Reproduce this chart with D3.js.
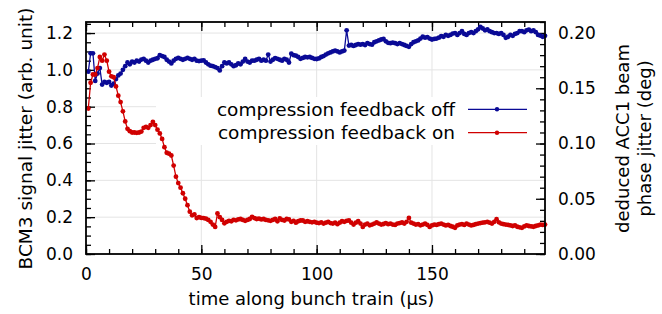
<!DOCTYPE html>
<html>
<head>
<meta charset="utf-8">
<script src="https://cdn.jsdelivr.net/npm/d3@7/dist/d3.min.js"></script>
<style>
  body { margin: 0; background: #fff; }
  svg text { font-family: "DejaVu Sans", sans-serif; fill: #000; }
</style>
</head>
<body>
<div id="chart"></div>
<script>
// jitter with compression feedback off (left axis, arb. unit), one sample per us starting at 1 us
var feedbackOff = [
  0.99, 1.09, 1.09, 0.94, 0.98, 1.01, 0.92, 0.935, 0.93, 0.935,
  0.915, 0.925, 0.95, 0.97, 0.98, 1.0, 1.02, 1.04, 1.03, 1.045,
  1.04, 1.05, 1.045, 1.056, 1.06, 1.05, 1.04, 1.05, 1.055, 1.06,
  1.063, 1.08, 1.075, 1.07, 1.055, 1.045, 1.035, 1.05, 1.06, 1.065,
  1.06, 1.055, 1.06, 1.065, 1.06, 1.055, 1.06, 1.05, 1.048, 1.05,
  1.052, 1.04, 1.03, 1.023, 1.02, 1.015, 1.01, 0.997, 1.02, 1.04,
  1.035, 1.04, 1.03, 1.02, 1.025, 1.035, 1.03, 1.045, 1.059, 1.045,
  1.04, 1.05, 1.05, 1.055, 1.06, 1.05, 1.055, 1.05, 1.083, 1.045,
  1.055, 1.064, 1.06, 1.055, 1.05, 1.06, 1.055, 1.04, 1.088, 1.08,
  1.077, 1.07, 1.06, 1.065, 1.07, 1.068, 1.07, 1.065, 1.06, 1.059,
  1.062, 1.07, 1.075, 1.083, 1.09, 1.095, 1.1, 1.105, 1.1, 1.095,
  1.1, 1.105, 1.215, 1.132, 1.135, 1.13, 1.135, 1.14, 1.137, 1.14,
  1.135, 1.145, 1.14, 1.137, 1.15, 1.155, 1.16, 1.165, 1.168, 1.155,
  1.147, 1.145, 1.148, 1.145, 1.14, 1.145, 1.14, 1.135, 1.13, 1.125,
  1.14, 1.15, 1.155, 1.16, 1.17, 1.18, 1.175, 1.178, 1.17, 1.165,
  1.168, 1.17, 1.175, 1.183, 1.18, 1.19, 1.185, 1.19, 1.197, 1.2,
  1.19, 1.2, 1.21, 1.195, 1.19, 1.2, 1.205, 1.2, 1.21, 1.22,
  1.234, 1.225, 1.215, 1.22, 1.21, 1.205, 1.2, 1.2, 1.195, 1.2,
  1.19, 1.174, 1.18, 1.19, 1.185, 1.195, 1.2, 1.21, 1.21, 1.205,
  1.215, 1.219, 1.21, 1.215, 1.205, 1.19, 1.186, 1.18, 1.185
];

// jitter with compression feedback on
var feedbackOn = [
  0.79, 0.93, 0.975, 0.975, 1.01, 1.07, 1.05, 1.083, 1.05, 0.99,
  0.965, 0.96, 0.91, 0.86, 0.825, 0.775, 0.72, 0.68, 0.667, 0.66,
  0.66, 0.658, 0.66, 0.665, 0.685, 0.69, 0.685, 0.7, 0.718, 0.7,
  0.675, 0.655, 0.625, 0.58, 0.55, 0.545, 0.535, 0.48, 0.42, 0.385,
  0.36, 0.33, 0.3, 0.265, 0.23, 0.21, 0.215, 0.195, 0.2, 0.196,
  0.195, 0.192, 0.185, 0.175, 0.16, 0.147, 0.22, 0.2, 0.185, 0.167,
  0.175, 0.18, 0.178, 0.185, 0.183, 0.188, 0.19, 0.185, 0.18, 0.185,
  0.19, 0.202, 0.195, 0.19, 0.192, 0.188, 0.19, 0.185, 0.183, 0.18,
  0.185, 0.19, 0.178, 0.193, 0.185, 0.182, 0.19, 0.188, 0.175, 0.18,
  0.17, 0.178, 0.182, 0.182, 0.175, 0.178, 0.175, 0.172, 0.175, 0.17,
  0.168, 0.172, 0.165, 0.17, 0.175, 0.168, 0.165, 0.17, 0.162, 0.17,
  0.178, 0.175, 0.18, 0.182, 0.17, 0.16, 0.17, 0.178, 0.165, 0.147,
  0.16, 0.165, 0.156, 0.16, 0.165, 0.171, 0.165, 0.16, 0.163, 0.168,
  0.162, 0.165, 0.16, 0.158, 0.165, 0.168, 0.171, 0.165, 0.175, 0.196,
  0.17, 0.165, 0.16, 0.162, 0.156, 0.16, 0.165, 0.158, 0.147, 0.155,
  0.16, 0.158, 0.162, 0.165, 0.16, 0.155, 0.158, 0.152, 0.148, 0.142,
  0.155, 0.16, 0.162, 0.158, 0.165, 0.16, 0.155, 0.158, 0.162, 0.165,
  0.168, 0.17, 0.172, 0.174, 0.17, 0.165, 0.175, 0.189, 0.172, 0.165,
  0.162, 0.16, 0.158, 0.155, 0.152, 0.155, 0.148, 0.145, 0.142, 0.15,
  0.155, 0.152, 0.15, 0.148, 0.152, 0.155, 0.16, 0.158, 0.16
];

var seriesNames = ["compression feedback off", "compression feedback on"];
var seriesColors = ["#0a0a96", "#d00000"];

var xMajorTicks = [0, 50, 100, 150];
var yLeftTicks = [0, 0.2, 0.4, 0.6, 0.8, 1.0, 1.2];
var yRightTicks = [0, 0.05, 0.1, 0.15, 0.2];

// Set the dimensions of the canvas / graph
var W = 662, H = 314;
var margin = { top: 22, right: 117, bottom: 60, left: 86 },
    width = W - margin.left - margin.right,
    height = H - margin.top - margin.bottom;

var svg = d3.select("#chart")
    .append("svg")
    .attr("width", W)
    .attr("height", H);

var g = svg.append("g")
    .attr("transform", "translate(" + margin.left + "," + margin.top + ")");

// scales
var x = d3.scaleLinear().domain([0, 199]).range([0, width]);
var y = d3.scaleLinear().domain([0, 1.26]).range([height, 0]);
var y2 = d3.scaleLinear().domain([0, 0.21]).range([height, 0]);

// grid
g.append("g").selectAll("line")
    .data(xMajorTicks.slice(1))
    .enter().append("line")
    .attr("x1", function(d) { return x(d); })
    .attr("x2", function(d) { return x(d); })
    .attr("y1", 0).attr("y2", height)
    .attr("stroke", "#e4e4e4").attr("stroke-width", 1);
g.append("g").selectAll("line")
    .data(yLeftTicks.slice(1))
    .enter().append("line")
    .attr("x1", 0).attr("x2", width)
    .attr("y1", function(d) { return y(d); })
    .attr("y2", function(d) { return y(d); })
    .attr("stroke", "#e4e4e4").attr("stroke-width", 1);

// legend background hides grid
g.append("rect")
    .attr("x", 70).attr("y", 75)
    .attr("width", width - 70).attr("height", 48)
    .attr("fill", "#fff");

// axes (ticks point inward)
function minors(scale, step) {
    var d = scale.domain(), out = [];
    for (var v = 0; v <= d[1] + 1e-9; v += step) out.push(+v.toFixed(4));
    return out;
}

function addAxis(axis, tx, ty, cls) {
    var a = g.append("g")
        .attr("class", cls)
        .attr("transform", "translate(" + tx + "," + ty + ")")
        .call(axis);
    a.select(".domain").remove();
    a.selectAll(".tick line").attr("stroke", "#000").attr("stroke-width", 1.3);
    a.selectAll("text").style("font-size", "17px");
    return a;
}

// x minor + major, bottom and top
addAxis(d3.axisBottom(x).tickValues(minors(x, 10)).tickSize(-5).tickFormat(""), 0, height, "xminor");
addAxis(d3.axisTop(x).tickValues(minors(x, 10)).tickSize(-5).tickFormat(""), 0, 0, "xminor2");
addAxis(d3.axisBottom(x).tickValues(xMajorTicks).tickSize(-9).tickPadding(14)
    .tickFormat(d3.format("d")), 0, height, "xaxis");
addAxis(d3.axisTop(x).tickValues(xMajorTicks).tickSize(-9).tickFormat(""), 0, 0, "xaxis2");

// left y
addAxis(d3.axisLeft(y).tickValues(minors(y, 0.05)).tickSize(-5).tickFormat(""), 0, 0, "yminor");
addAxis(d3.axisLeft(y).tickValues(yLeftTicks).tickSize(-9).tickPadding(13)
    .tickFormat(d3.format(".1f")), 0, 0, "yaxis");

// right y2
addAxis(d3.axisRight(y2).tickValues(minors(y2, 0.01)).tickSize(-5).tickFormat(""), width, 0, "y2minor");
addAxis(d3.axisRight(y2).tickValues(yRightTicks).tickSize(-9).tickPadding(13)
    .tickFormat(d3.format(".2f")), width, 0, "y2axis");

// data
var allSeries = [feedbackOff, feedbackOn];
var valueline = d3.line()
    .x(function(d, i) { return x(i + 1); })
    .y(function(d) { return y(d); });

allSeries.forEach(function(vals, k) {
    g.append("path")
        .attr("d", valueline(vals))
        .attr("fill", "none")
        .attr("stroke", seriesColors[k])
        .attr("stroke-width", 1.3);
    g.append("g").selectAll("circle")
        .data(vals)
        .enter().append("circle")
        .attr("cx", function(d, i) { return x(i + 1); })
        .attr("cy", function(d) { return y(d); })
        .attr("r", 2.4)
        .attr("fill", seriesColors[k]);
});

// frame
g.append("rect")
    .attr("width", width).attr("height", height)
    .attr("fill", "none")
    .attr("stroke", "#000").attr("stroke-width", 1.8);

// legend
var legend = g.append("g").attr("class", "legend");
seriesNames.forEach(function(name, k) {
    var ly = 87.3 + k * 23.4;
    legend.append("text")
        .attr("x", 369).attr("y", ly)
        .attr("dy", "0.35em")
        .attr("text-anchor", "end")
        .style("font-size", "18.5px")
        .text(name);
    legend.append("line")
        .attr("x1", 382).attr("x2", 441)
        .attr("y1", ly).attr("y2", ly)
        .attr("stroke", seriesColors[k]).attr("stroke-width", 1.2);
    legend.append("circle")
        .attr("cx", 411).attr("cy", ly).attr("r", 2.2)
        .attr("fill", seriesColors[k]);
});

// axis labels
svg.append("text")
    .attr("transform", "translate(32,138.5) rotate(-90)")
    .attr("text-anchor", "middle")
    .style("font-size", "18.5px")
    .text("BCM3 signal jitter (arb. unit)");

svg.append("text")
    .attr("x", 311.5).attr("y", 305)
    .attr("text-anchor", "middle")
    .style("font-size", "18px")
    .text("time along bunch train (\u03bcs)");

var r = svg.append("text")
    .attr("transform", "translate(629,138.5) rotate(-90)")
    .attr("text-anchor", "middle")
    .style("font-size", "18px");
r.append("tspan").attr("x", 0).attr("dy", 0).text("deduced ACC1 beam");
r.append("tspan").attr("x", 0).attr("dy", 22).text("phase jitter (deg)");
</script>
</body>
</html>
